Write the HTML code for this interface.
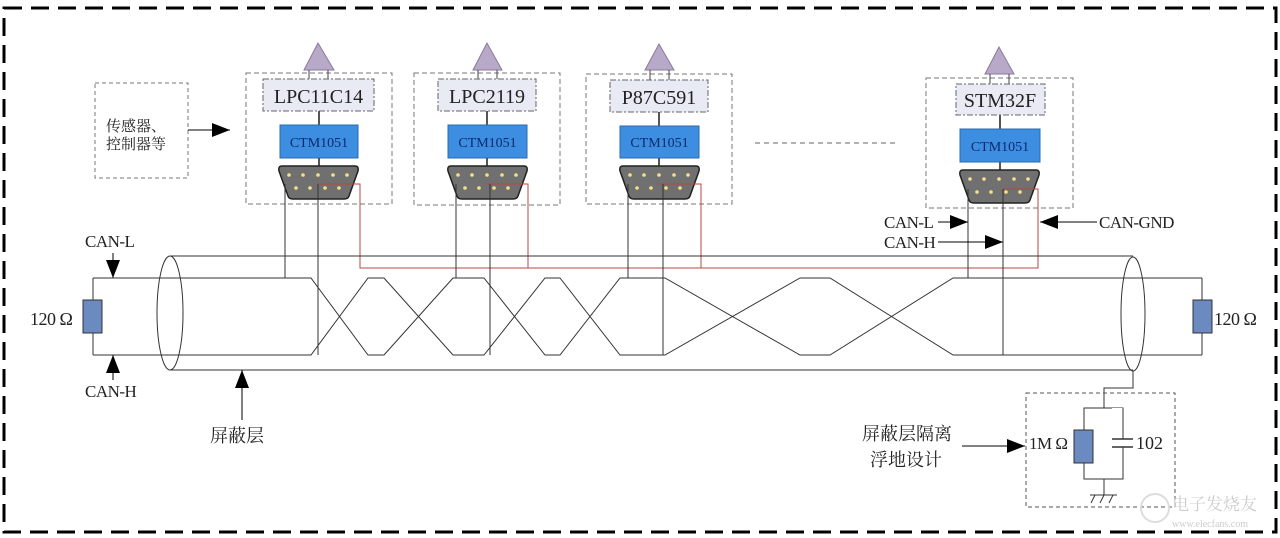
<!DOCTYPE html>
<html><head><meta charset="utf-8"><style>
html,body{margin:0;padding:0;background:#fff;}
svg{display:block;}
text{font-family:"Liberation Serif","Noto Serif CJK SC",serif;fill:#222;}
.cn{font-family:"Liberation Serif","Noto Serif CJK SC","Noto Sans CJK SC",serif;}
</style></head><body>
<svg width="1280" height="538" viewBox="0 0 1280 538" xmlns="http://www.w3.org/2000/svg">
<defs>
<marker id="ah" markerWidth="18" markerHeight="14" refX="18" refY="7" orient="auto" markerUnits="userSpaceOnUse"><path d="M0,0 L18,7 L0,14 Z" fill="#000"/></marker>
<g id="db9">
 <path d="M3,0 H76 Q80,0 79,5 L70,30 Q69,33 65,33 H14 Q10,33 9,30 L0,5 Q-1,0 3,0 Z" fill="#707070" stroke="#222" stroke-width="1.5"/>
 <g fill="#f4e08a"><circle cx="10" cy="9" r="1.8"/><circle cx="24" cy="9" r="1.8"/><circle cx="39" cy="9" r="1.8"/><circle cx="54" cy="9" r="1.8"/><circle cx="68" cy="9" r="1.8"/>
 <circle cx="17" cy="22" r="1.8"/><circle cx="31" cy="22" r="1.8"/><circle cx="46" cy="22" r="1.8"/><circle cx="60" cy="22" r="1.8"/></g>
</g>
</defs>
<rect x="4" y="8" width="1272" height="524" fill="none" stroke="#000" stroke-width="3" stroke-dasharray="18,9"/>

<rect x="95" y="83" width="93" height="95" fill="none" stroke="#777" stroke-dasharray="4,3"/>
<text class="cn" x="106" y="131" font-size="15">传感器、</text>
<text class="cn" x="106" y="149" font-size="15">控制器等</text>
<line x1="188" y1="130" x2="230" y2="130" stroke="#000" marker-end="url(#ah)"/>

<line x1="755" y1="143" x2="895" y2="143" stroke="#666" stroke-dasharray="5,4"/>

<g>
<rect x="246" y="73" width="146" height="131" fill="none" stroke="#777" stroke-dasharray="5,3"/>
<polygon points="318,43 304,70 334,70" fill="#b9a9c9" stroke="#8a7a9a"/>
<line x1="309" y1="70" x2="309" y2="80" stroke="#444"/><line x1="328" y1="70" x2="328" y2="80" stroke="#444"/>
<rect x="263" y="79" width="111" height="32" fill="#e8eaf4" stroke="#666" stroke-dasharray="6,2,2,2"/>
<text x="318.5" y="103" font-size="20" text-anchor="middle">LPC11C14</text>
<line x1="319" y1="111" x2="319" y2="125" stroke="#555" stroke-width="2"/>
<rect x="280" y="125" width="78" height="33" fill="#3d8ee0" stroke="#2a6ab0"/>
<text x="319" y="147" font-size="14" text-anchor="middle" style="fill:#0a2a70">CTM1051</text>
<line x1="319" y1="158" x2="319" y2="166" stroke="#555" stroke-width="2"/>
<use href="#db9" x="279" y="166"/>
</g>
<g>
<rect x="414" y="73" width="146" height="132" fill="none" stroke="#777" stroke-dasharray="5,3"/>
<polygon points="487,43 473,70 502,70" fill="#b9a9c9" stroke="#8a7a9a"/>
<line x1="478" y1="70" x2="478" y2="80" stroke="#444"/><line x1="497" y1="70" x2="497" y2="80" stroke="#444"/>
<rect x="438" y="79" width="98" height="32" fill="#e8eaf4" stroke="#666" stroke-dasharray="6,2,2,2"/>
<text x="487" y="103" font-size="20" text-anchor="middle">LPC2119</text>
<line x1="487" y1="111" x2="487" y2="125" stroke="#555" stroke-width="2"/>
<rect x="448" y="125" width="79" height="33" fill="#3d8ee0" stroke="#2a6ab0"/>
<text x="487.5" y="147" font-size="14" text-anchor="middle" style="fill:#0a2a70">CTM1051</text>
<line x1="487" y1="158" x2="487" y2="166" stroke="#555" stroke-width="2"/>
<use href="#db9" x="448" y="166"/>
</g>
<g>
<rect x="586" y="74" width="146" height="130" fill="none" stroke="#777" stroke-dasharray="5,3"/>
<polygon points="659,44 645,70 674,70" fill="#b9a9c9" stroke="#8a7a9a"/>
<line x1="650" y1="70" x2="650" y2="80" stroke="#444"/><line x1="669" y1="70" x2="669" y2="80" stroke="#444"/>
<rect x="610" y="80" width="98" height="32" fill="#e8eaf4" stroke="#666" stroke-dasharray="6,2,2,2"/>
<text x="659" y="104" font-size="20" text-anchor="middle">P87C591</text>
<line x1="659" y1="112" x2="659" y2="126" stroke="#555" stroke-width="2"/>
<rect x="620" y="126" width="79" height="32" fill="#3d8ee0" stroke="#2a6ab0"/>
<text x="659.5" y="147" font-size="14" text-anchor="middle" style="fill:#0a2a70">CTM1051</text>
<line x1="659" y1="158" x2="659" y2="166" stroke="#555" stroke-width="2"/>
<use href="#db9" x="620" y="166"/>
</g>
<g>
<rect x="926" y="78" width="147" height="130" fill="none" stroke="#777" stroke-dasharray="5,3"/>
<polygon points="999,47 985,74 1014,74" fill="#b9a9c9" stroke="#8a7a9a"/>
<line x1="990" y1="74" x2="990" y2="84" stroke="#444"/><line x1="1009" y1="74" x2="1009" y2="84" stroke="#444"/>
<rect x="956" y="84" width="89" height="31" fill="#e8eaf4" stroke="#666" stroke-dasharray="6,2,2,2"/>
<text x="1000" y="107" font-size="20" text-anchor="middle">STM32F</text>
<line x1="1000" y1="115" x2="1000" y2="129" stroke="#555" stroke-width="2"/>
<rect x="960" y="129" width="80" height="33" fill="#3d8ee0" stroke="#2a6ab0"/>
<text x="1000" y="151" font-size="14" text-anchor="middle" style="fill:#0a2a70">CTM1051</text>
<line x1="1000" y1="162" x2="1000" y2="170" stroke="#555" stroke-width="2"/>
<use href="#db9" x="960" y="170"/>
</g>

<g stroke="#b44" fill="none" stroke-width="1">
<path d="M318,184 H360 V268 H1038 V189 H1003"/>
<path d="M487,184 H528 V268"/>
<path d="M659,184 H701 V268"/>
</g>

<g stroke="#333" fill="none" stroke-width="1">
<line x1="170" y1="256" x2="1133" y2="256"/>
<line x1="170" y1="370" x2="1133" y2="370"/>
<ellipse cx="170" cy="313" rx="13" ry="57"/>
<ellipse cx="1133" cy="314" rx="12" ry="57"/>
<polyline points="93,278 311,278 368,355 384,355 453,278 484,278 545,355 560,355 620,278 665,278 800,355 830,355 953,278 1202,278"/>
<polyline points="93,355 311,355 368,278 384,278 453,355 484,355 545,278 560,278 620,355 665,355 800,278 830,278 953,355 1202,355"/>
<line x1="93" y1="278" x2="93" y2="355"/>
<line x1="1202" y1="278" x2="1202" y2="355"/>
<line x1="285" y1="184" x2="285" y2="278"/><line x1="318" y1="184" x2="318" y2="355"/>
<line x1="456" y1="184" x2="456" y2="278"/><line x1="490" y1="184" x2="490" y2="355"/>
<line x1="628" y1="184" x2="628" y2="278"/><line x1="663" y1="184" x2="663" y2="355"/>
<line x1="968" y1="189" x2="968" y2="278"/><line x1="1003" y1="189" x2="1003" y2="355"/>
<polyline points="1133,371 1133,388 1104,388 1104,408"/>
<rect x="1084" y="408" width="39" height="71"/>
<line x1="1104" y1="479" x2="1104" y2="495"/>
<line x1="1090" y1="495" x2="1117" y2="495"/>
<line x1="1095" y1="495" x2="1091" y2="503"/><line x1="1104" y1="495" x2="1100" y2="503"/><line x1="1113" y1="495" x2="1109" y2="503"/>
</g>
<rect x="83" y="300" width="19" height="33" fill="#6a8ac0" stroke="#333"/>
<rect x="1193" y="300" width="19" height="33" fill="#6a8ac0" stroke="#333"/>
<text x="30" y="325" font-size="18" letter-spacing="-0.5">120 Ω</text>
<text x="1214" y="325" font-size="18" letter-spacing="-0.5">120 Ω</text>

<rect x="1026" y="393" width="149" height="114" fill="none" stroke="#555" stroke-dasharray="4,3"/>
<rect x="1074" y="430" width="19" height="33" fill="#6a8ac0" stroke="#333"/>
<rect x="1112" y="408" width="22" height="60" fill="#fff" stroke="none"/>
<line x1="1123" y1="408" x2="1123" y2="439" stroke="#333"/><line x1="1123" y1="447" x2="1123" y2="479" stroke="#333"/>
<line x1="1112" y1="439" x2="1133" y2="439" stroke="#333" stroke-width="1.5"/>
<line x1="1112" y1="447" x2="1133" y2="447" stroke="#333" stroke-width="1.5"/>
<text x="1136" y="449" font-size="18">102</text>
<text x="1029" y="449" font-size="17" letter-spacing="-0.5">1M Ω</text>
<text class="cn" x="862" y="440" font-size="18">屏蔽层隔离</text>
<text class="cn" x="870" y="466" font-size="18">浮地设计</text>
<line x1="962" y1="446" x2="1025" y2="446" stroke="#000" marker-end="url(#ah)"/>

<text x="85" y="247" font-size="17" letter-spacing="-0.5">CAN-L</text>
<line x1="113" y1="253" x2="113" y2="278" stroke="#000" marker-end="url(#ah)"/>
<line x1="113" y1="380" x2="113" y2="355" stroke="#000" marker-end="url(#ah)"/>
<text x="85" y="397" font-size="17" letter-spacing="-0.5">CAN-H</text>
<line x1="242" y1="420" x2="242" y2="370" stroke="#000" marker-end="url(#ah)"/>
<text class="cn" x="210" y="442" font-size="18">屏蔽层</text>

<text x="884" y="228" font-size="17" letter-spacing="-0.5">CAN-L</text>
<line x1="938" y1="222" x2="968" y2="222" stroke="#000" marker-end="url(#ah)"/>
<text x="884" y="248" font-size="17" letter-spacing="-0.5">CAN-H</text>
<line x1="938" y1="242" x2="1003" y2="242" stroke="#000" marker-end="url(#ah)"/>
<text x="1099" y="228" font-size="17" letter-spacing="-0.5">CAN-GND</text>
<line x1="1097" y1="222" x2="1040" y2="222" stroke="#000" marker-end="url(#ah)"/>

<circle cx="1155" cy="508" r="14" fill="none" stroke="#ddd" stroke-width="2"/>
<text class="cn" x="1172" y="510" font-size="17" style="fill:#ccc">电子发烧友</text>
<text x="1172" y="527" font-size="10" style="fill:#ccc">www.elecfans.com</text>
</svg>
</body></html>
